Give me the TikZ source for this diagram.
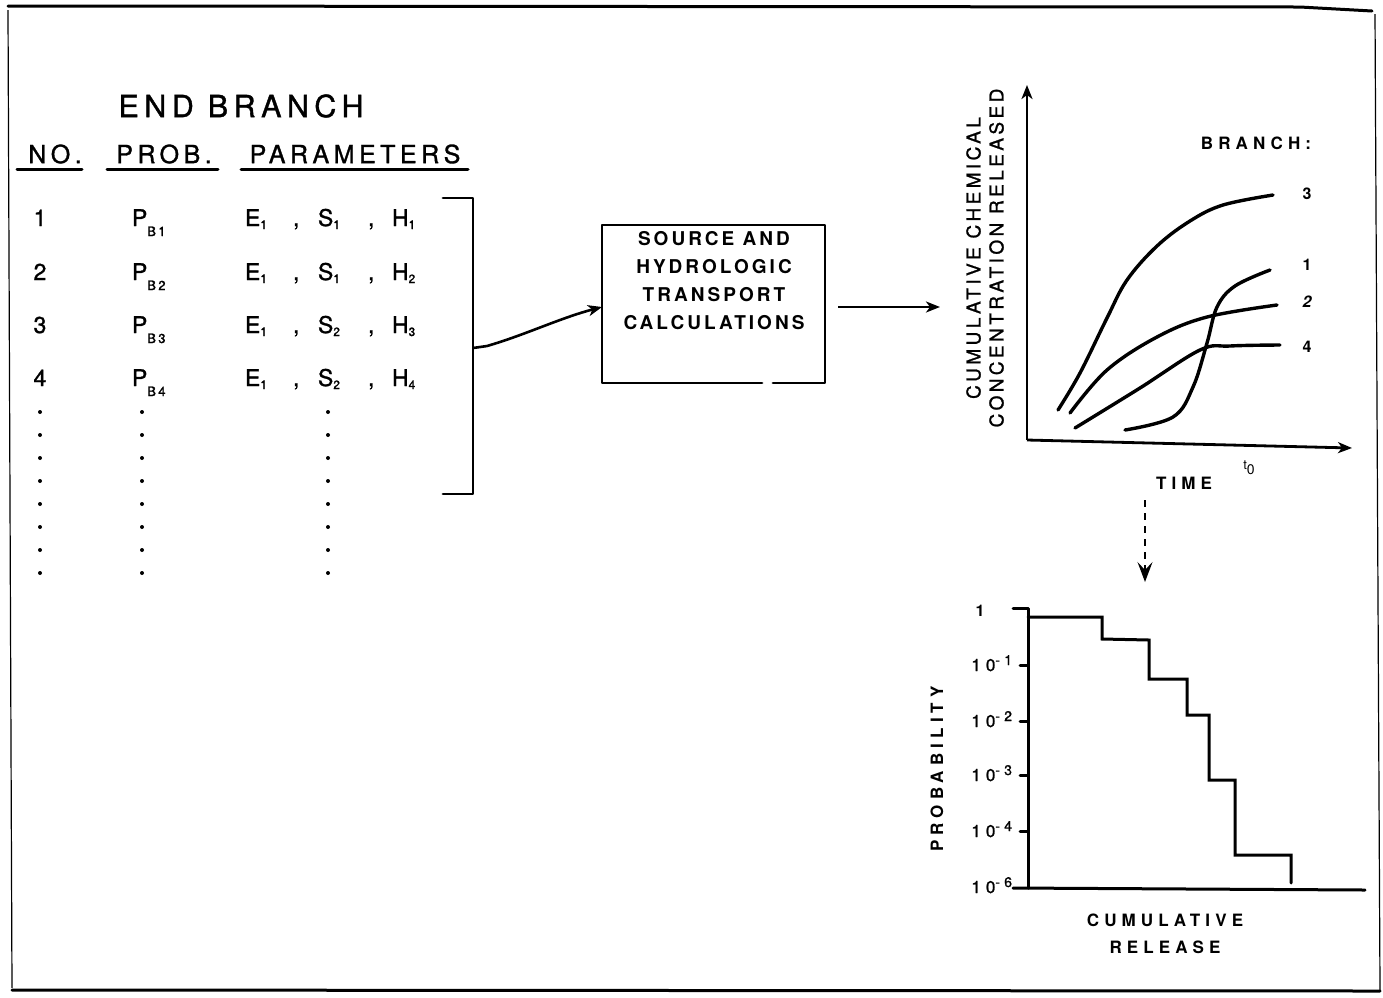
\documentclass[tikz,border=0pt]{standalone}
\usepackage{fontspec}
\setmainfont{TeX Gyre Heros}
\newfontfamily\fHd[LetterSpace=18,FakeBold=1.2]{TeX Gyre Heros}
\newfontfamily\fBx[LetterSpace=16]{TeX Gyre Heros}
\newfontfamily\fWd[LetterSpace=30]{TeX Gyre Heros}
\newfontfamily\fWt[LetterSpace=30,FakeBold=1.2]{TeX Gyre Heros}
\usetikzlibrary{arrows.meta}
\newcommand\fsz[1]{\fontsize{#1}{#1}\selectfont}
\newcommand\pbsub[1]{\raisebox{-10pt}{\fontsize{13}{13}\selectfont #1}}
\newcommand\prsub[1]{\raisebox{-3pt}{\fontsize{12}{12}\selectfont #1}}
\begin{document}
\begin{tikzpicture}[x=1pt,y=1pt,
  txt/.style={inner sep=0pt, outer sep=0pt},
  frameline/.style={line width=3pt, line cap=round},
  sideline/.style={line width=1.2pt},
  ln/.style={line width=2.8pt, line cap=round, line join=round},
  crv/.style={line width=3.4pt, line cap=round},
  arr/.style={line width=2.6pt, -{Stealth[length=14pt,width=11pt,inset=4pt]}},
  dotmark/.style={fill=black}]
\useasboundingbox (0,0) rectangle (1383,-997);
% frame
\draw[frameline] (8,-6) -- (1300,-7) -- (1372,-11);
\draw[sideline] (8,-10) -- (12,-988);
\draw[sideline] (1375,-14) -- (1380,-990);
\draw[frameline] (12,-990) -- (1380,-991);

% table
\node[txt] (title) at (241,-106) {\fHd\fsz{30.5}END BRANCH};
\node[txt] (hno) at (55,-154) {\fHd\fsz{25}NO.};
\node[txt] (hprob) at (164,-154) {\fHd\fsz{25}PROB.};
\node[txt] (hpar) at (355,-154) {\fHd\fsz{25}PARAMETERS};
\draw[ln,line width=3pt] (17,-169) -- (82,-169);
\draw[ln,line width=3pt] (107,-169) -- (218,-169);
\draw[ln,line width=3pt] (241,-169) -- (468,-169);

\foreach \i/\yy/\s in {1/218/1, 2/272/1, 3/325/2, 4/378/2}{
  \node[txt,anchor=base] (no\i) at (40,{-\yy-8}) {\fHd\fsz{23}\i};
  \node[txt,anchor=base west] (pb\i) at (132,{-\yy-8}) {\fHd\fsz{23}P\pbsub{B\i}};
  \node[txt,anchor=base west] (par\i) at (245,{-\yy-8}) {\fHd\fsz{23}\makebox[48pt][l]{E\prsub{1}}\makebox[25pt][l]{,}\makebox[50pt][l]{S\prsub{\s}}\makebox[24pt][l]{,}H\prsub{\i}};
}
\foreach \k in {0,...,7}{
  \fill[dotmark] (40,{-412-23*\k}) circle (2);
  \fill[dotmark] (142,{-412-23*\k}) circle (2);
  \fill[dotmark] (328,{-412-23*\k}) circle (2);
}
% bracket
\draw[ln] (443,-198) -- (473,-198) -- (473,-494) -- (443,-494);
\coordinate (brmid) at (473,-348);

% box
\node[txt, minimum width=223pt, minimum height=158pt] (box) at (713.5,-304) {};
\draw[ln] ([xshift=-52pt]box.south east) -- (box.south east) -- (box.north east) -- (box.north west) -- (box.south west) -- ([xshift=-63pt]box.south east);
\node[txt, align=center, font={\fBx\bfseries\fontsize{19}{28}\selectfont}] (boxtext) at (714,-281) {SOURCE AND\\HYDROLOGIC\\TRANSPORT\\CALCULATIONS};

\draw[arr] (brmid) -- (487,-346) .. controls (525,-335) and (560,-318) .. ([yshift=-3pt]box.west);
\coordinate (p1in) at (940,-307);
\draw[arr] ([xshift=13pt,yshift=-3pt]box.east) -- (p1in);

% plot 1
\coordinate (o1) at (1027,-440);
\coordinate (ytop1) at (1027,-85);
\coordinate (xend1) at (1352,-448);
\draw[arr, line width=2.8pt] (o1) -- (ytop1);
\draw[arr, line width=2.8pt] (o1) -- (xend1);
\node[txt, rotate=90, align=center, font={\fHd\fontsize{19}{23}\selectfont}] (ylab1) at (985,-258) {CUMULATIVE CHEMICAL\\CONCENTRATION RELEASED};
\node[txt] (branch) at (1256,-143) {\fWd\bfseries\fsz{17}BRANCH:};
\draw[crv] plot[smooth, tension=0.6] coordinates {(1058,-410) (1080,-373) (1107,-318) (1127,-280) (1157,-246) (1190,-221) (1223,-205) (1273,-195)};
\draw[crv] plot[smooth, tension=0.6] coordinates {(1070,-413) (1107,-370) (1157,-337) (1207,-317) (1277,-305)};
\draw[crv] plot[smooth, tension=0.6] coordinates {(1075,-428) (1140,-388) (1200,-350) (1230,-346) (1280,-345)};
\draw[crv] plot[smooth, tension=0.6] coordinates {(1125,-430) (1173,-417) (1193,-387) (1207,-343) (1217,-307) (1235,-286) (1270,-270)};
\node[txt] (lb3) at (1307,-194) {\bfseries\fsz{16}3};
\node[txt] (lb1) at (1307,-265) {\bfseries\fsz{16}1};
\node[txt] (lb2) at (1307,-302) {\itshape\bfseries\fsz{16}2};
\node[txt] (lb4) at (1307,-347) {\bfseries\fsz{16}4};
\node[txt] (time) at (1184,-483) {\fWd\bfseries\fsz{17}TIME};
\node[txt] (tzero) at (1249,-468) {\fsz{13}t\raisebox{-5pt}{\fsz{14}0}};

% dashed link
\coordinate (d1) at (1145,-500);
\coordinate (d2) at (1145,-582);
\draw[line width=1.4pt, dash pattern=on 7pt off 6pt, -{Stealth[length=20pt,width=15pt,inset=8pt]}] (d1) -- (d2);

% plot 2
\coordinate (o2) at (1028,-888);
\coordinate (ytop2) at (1028,-608);
\draw[ln, line width=3pt] (1013,-608) -- (ytop2) -- (o2);
\draw[ln, line width=3pt] (1013,-888) -- (1365,-890);
\foreach \yy in {665,721,775,831}{\draw[ln, line width=3pt] (1020,-\yy) -- (1028,-\yy);}
\draw[ln, line width=3pt, line join=miter] (1028,-617) -- (1102,-617) -- (1102,-639) -- (1149,-640) -- (1149,-679) -- (1187,-679) -- (1187,-715) -- (1209,-715) -- (1209,-780) -- (1235,-780) -- (1235,-855) -- (1291,-855) -- (1291,-883);
\node[txt,anchor=base] (t0) at (980,-616) {\fWd\bfseries\fsz{16}1};
\foreach \yy/\ee/\nm in {665/1/ta, 721/2/tb, 775/3/tc, 831/4/td, 887/6/te}{
  \node[txt,anchor=base east] (\nm) at (1012,{-\yy-6}) {\fWt\fsz{17}10\raisebox{6pt}{\fsz{14}-\ee}};
}
\node[txt, rotate=90] (problab) at (937,-769) {\fWd\bfseries\fsz{17}PROBABILITY};
\node[txt] (cum) at (1165,-920) {\fWd\bfseries\fsz{17}CUMULATIVE};
\node[txt] (rel) at (1165,-947) {\fWd\bfseries\fsz{17}RELEASE};
\end{tikzpicture}
\end{document}
